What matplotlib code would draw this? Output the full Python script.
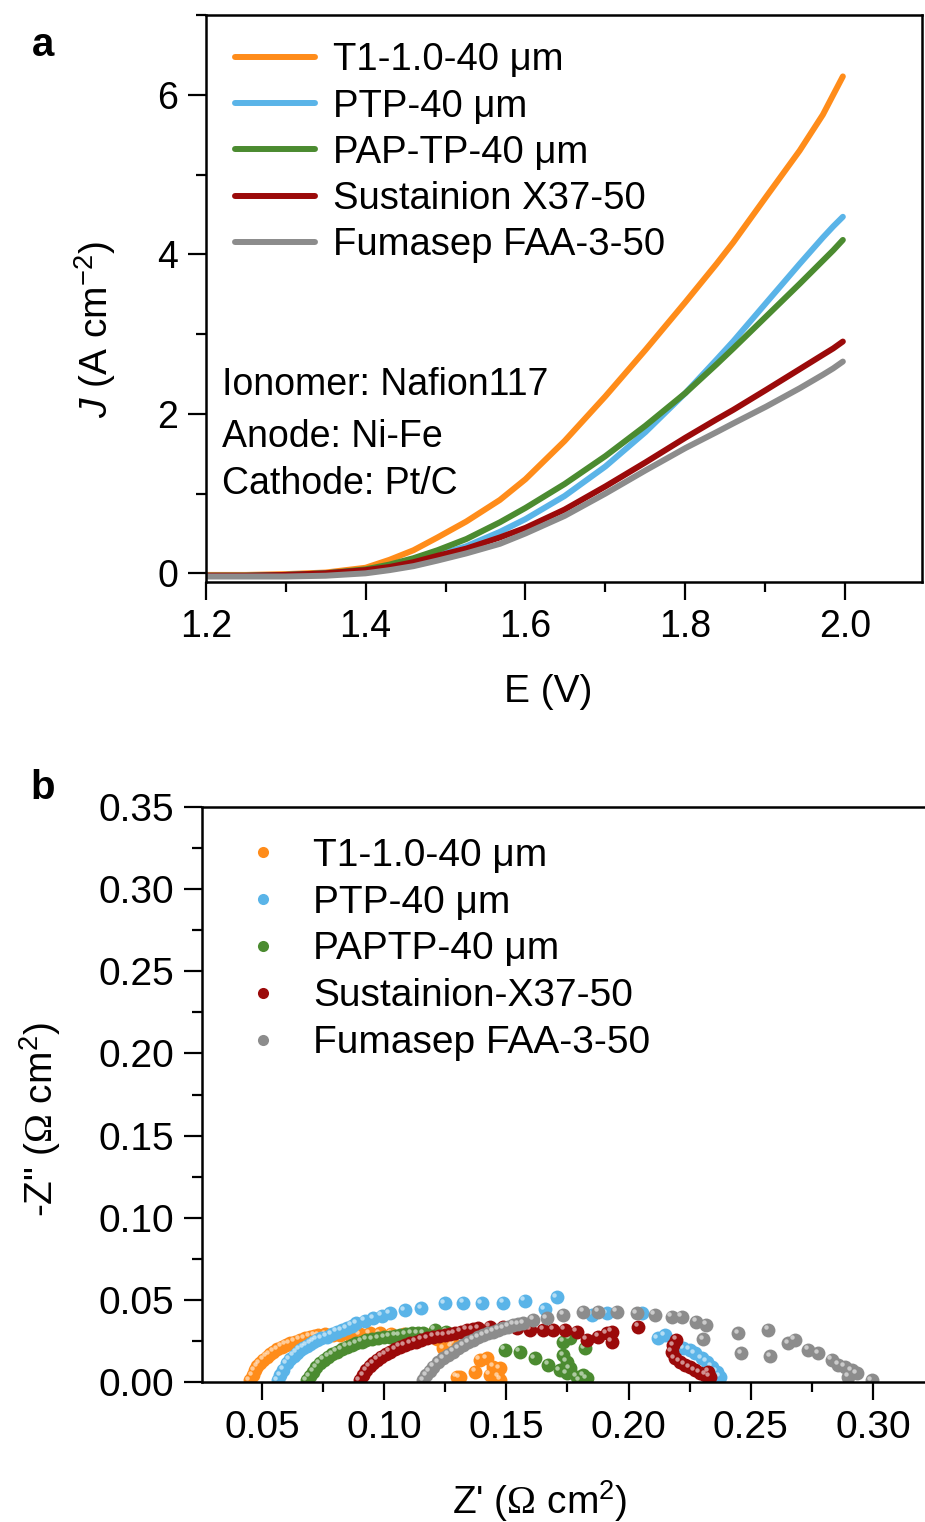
import matplotlib
matplotlib.use("Agg")
import matplotlib.pyplot as plt
from matplotlib.ticker import MultipleLocator, FormatStrFormatter
from matplotlib.transforms import offset_copy

plt.rcParams['font.family'] = ['Liberation Sans', 'DejaVu Sans']
plt.rcParams['mathtext.fontset'] = 'custom'
plt.rcParams['mathtext.rm'] = 'Liberation Sans'
plt.rcParams['mathtext.it'] = 'Liberation Sans:italic'
plt.rcParams['mathtext.sf'] = 'Liberation Serif'

# ---- data: polarization curves (panel a) ----
names_a = ["T1-1.0-40 μm", "PTP-40 μm", "PAP-TP-40 μm", "Sustainion X37-50", "Fumasep FAA-3-50"]
colors = ["#FF8C1A", "#5AB4E8", "#4B8B30", "#9B0A0A", "#8C8C8C"]

E_volt = [1.20, 1.25, 1.30, 1.35, 1.40, 1.43, 1.46, 1.49, 1.526, 1.568, 1.60,
          1.649, 1.70, 1.75, 1.80, 1.839, 1.86, 1.901, 1.943, 1.972, 1.985, 1.997]
J_t1 = [-0.02, -0.02, -0.01, 0.01, 0.07, 0.17, 0.29, 0.45, 0.65, 0.92, 1.18,
        1.66, 2.22, 2.80, 3.40, 3.88, 4.15, 4.72, 5.30, 5.75, 6.00, 6.23]
J_ptp = [-0.03, -0.03, -0.02, 0.0, 0.04, 0.08, 0.14, 0.23, 0.34, 0.52, 0.68,
         0.97, 1.34, 1.77, 2.26, 2.68, 2.91, 3.39, 3.88, 4.21, 4.35, 4.47]
J_paptp = [-0.03, -0.03, -0.02, 0.0, 0.05, 0.11, 0.19, 0.29, 0.43, 0.64, 0.82,
           1.12, 1.47, 1.85, 2.26, 2.62, 2.82, 3.22, 3.63, 3.92, 4.05, 4.18]
J_sus = [-0.03, -0.03, -0.02, 0.0, 0.04, 0.08, 0.14, 0.22, 0.31, 0.45, 0.57,
         0.80, 1.09, 1.39, 1.70, 1.93, 2.05, 2.30, 2.56, 2.74, 2.82, 2.906]
J_fum = [-0.04, -0.04, -0.04, -0.03, 0.0, 0.04, 0.09, 0.16, 0.25, 0.37, 0.50,
         0.72, 1.00, 1.29, 1.57, 1.77, 1.88, 2.09, 2.32, 2.49, 2.57, 2.655]

# ---- data: Nyquist plots (panel b) ----
names_b = ["T1-1.0-40 μm", "PTP-40 μm", "PAPTP-40 μm", "Sustainion-X37-50", "Fumasep FAA-3-50"]

zre_t1 = [0.0451, 0.0462, 0.0471, 0.0482, 0.0492, 0.0505, 0.0519, 0.0532, 0.0546, 0.0563,
          0.0581, 0.0598, 0.0615, 0.0635, 0.0655, 0.0675, 0.0696, 0.0715, 0.0730, 0.0760,
          0.0790, 0.0820, 0.0860, 0.0901, 0.0942, 0.0983, 0.1030, 0.1080, 0.1130, 0.1175,
          0.1215, 0.1242, 0.1276, 0.1283, 0.1297, 0.1310, 0.1372, 0.1392, 0.1419, 0.1433,
          0.1446, 0.1468, 0.1474, 0.1476]
zim_t1 = [0.0010, 0.0040, 0.0073, 0.0095, 0.0114, 0.0135, 0.0154, 0.0170, 0.0185, 0.0200,
          0.0215, 0.0226, 0.0235, 0.0246, 0.0256, 0.0266, 0.0276, 0.0282, 0.0286, 0.0290,
          0.0288, 0.0284, 0.0288, 0.0292, 0.0296, 0.0296, 0.0294, 0.0290, 0.0290, 0.0285,
          0.0260, 0.0205, 0.0215, 0.0232, 0.0032, 0.0030, 0.0063, 0.0134, 0.0144, 0.0043,
          0.0093, 0.0032, 0.0083, 0.0015]

zre_ptp = [0.0565, 0.0575, 0.0588, 0.0601, 0.0615, 0.0630, 0.0642, 0.0655, 0.0670, 0.0684,
           0.0697, 0.0710, 0.0725, 0.0742, 0.0765, 0.0785, 0.0806, 0.0826, 0.0847, 0.0867,
           0.0887, 0.0920, 0.0955, 0.0990, 0.1024, 0.1085, 0.1153, 0.1249, 0.1324, 0.1399,
           0.1488, 0.1576, 0.1658, 0.1706, 0.1850, 0.1910, 0.2054, 0.2120, 0.2149, 0.2224,
           0.2251, 0.2272, 0.2299, 0.2320, 0.2340, 0.2360, 0.2374]
zim_ptp = [0.0010, 0.0040, 0.0075, 0.0114, 0.0138, 0.0160, 0.0178, 0.0195, 0.0210, 0.0222,
           0.0234, 0.0245, 0.0256, 0.0266, 0.0276, 0.0291, 0.0306, 0.0316, 0.0327, 0.0342,
           0.0357, 0.0372, 0.0388, 0.0403, 0.0418, 0.0438, 0.0449, 0.0479, 0.0483, 0.0479,
           0.0483, 0.0495, 0.0443, 0.0516, 0.0410, 0.0418, 0.0420, 0.0266, 0.0286, 0.0205,
           0.0195, 0.0175, 0.0144, 0.0124, 0.0093, 0.0063, 0.0032]

zre_paptp = [0.0683, 0.0696, 0.0710, 0.0723, 0.0737, 0.0754, 0.0771, 0.0788, 0.0806, 0.0826,
             0.0847, 0.0867, 0.0887, 0.0908, 0.0928, 0.0952, 0.0976, 0.1000, 0.1024, 0.1045,
             0.1065, 0.1089, 0.1113, 0.1137, 0.1160, 0.1208, 0.1255, 0.1494, 0.1556, 0.1617,
             0.1672, 0.1719, 0.1747, 0.1788, 0.1829, 0.1733, 0.1760, 0.1733, 0.1747, 0.1760,
             0.1821, 0.1800, 0.1815]
zim_paptp = [0.0010, 0.0035, 0.0063, 0.0090, 0.0114, 0.0135, 0.0154, 0.0170, 0.0185, 0.0200,
             0.0215, 0.0225, 0.0235, 0.0246, 0.0256, 0.0261, 0.0266, 0.0271, 0.0276, 0.0281,
             0.0286, 0.0291, 0.0296, 0.0296, 0.0296, 0.0317, 0.0306, 0.0195, 0.0185, 0.0144,
             0.0104, 0.0073, 0.0053, 0.0032, 0.0022, 0.0245, 0.0266, 0.0164, 0.0124, 0.0083,
             0.0205, 0.0010, 0.0040]

zre_sus = [0.0901, 0.0914, 0.0928, 0.0941, 0.0955, 0.0972, 0.0989, 0.1006, 0.1024, 0.1045,
           0.1065, 0.1085, 0.1106, 0.1130, 0.1153, 0.1177, 0.1201, 0.1225, 0.1249, 0.1270,
           0.1290, 0.1314, 0.1338, 0.1362, 0.1385, 0.1433, 0.1488, 0.1542, 0.1597, 0.1651,
           0.1692, 0.1740, 0.1788, 0.1829, 0.1876, 0.1910, 0.1931, 0.1931, 0.2040, 0.2196,
           0.2183, 0.2176, 0.2190, 0.2210, 0.2231, 0.2251, 0.2272, 0.2292, 0.2313, 0.2333,
           0.2326]
zim_sus = [0.0010, 0.0040, 0.0073, 0.0095, 0.0114, 0.0135, 0.0154, 0.0170, 0.0185, 0.0200,
           0.0215, 0.0225, 0.0235, 0.0246, 0.0256, 0.0266, 0.0276, 0.0281, 0.0286, 0.0291,
           0.0296, 0.0306, 0.0317, 0.0322, 0.0327, 0.0337, 0.0337, 0.0327, 0.0317, 0.0317,
           0.0317, 0.0317, 0.0306, 0.0256, 0.0276, 0.0296, 0.0306, 0.0245, 0.0337, 0.0256,
           0.0225, 0.0185, 0.0144, 0.0124, 0.0104, 0.0089, 0.0073, 0.0057, 0.0043, 0.0032,
           0.0063]

zre_fum = [0.1160, 0.1172, 0.1186, 0.1201, 0.1221, 0.1242, 0.1262, 0.1283, 0.1303, 0.1324,
           0.1345, 0.1365, 0.1386, 0.1406, 0.1427, 0.1447, 0.1468, 0.1488, 0.1508, 0.1528,
           0.1549, 0.1569, 0.1610, 0.1665, 0.1733, 0.1815, 0.1876, 0.1951, 0.2033, 0.2108,
           0.2176, 0.2217, 0.2278, 0.2319, 0.2306, 0.2449, 0.2572, 0.2462, 0.2579, 0.2653,
           0.2681, 0.2735, 0.2776, 0.2831, 0.2858, 0.2885, 0.2913, 0.2933, 0.2899, 0.2995]
zim_fum = [0.0010, 0.0040, 0.0065, 0.0093, 0.0120, 0.0144, 0.0165, 0.0185, 0.0205, 0.0225,
           0.0241, 0.0256, 0.0271, 0.0286, 0.0296, 0.0306, 0.0317, 0.0327, 0.0337, 0.0347,
           0.0352, 0.0357, 0.0378, 0.0388, 0.0408, 0.0428, 0.0428, 0.0428, 0.0418, 0.0408,
           0.0398, 0.0398, 0.0367, 0.0347, 0.0260, 0.0296, 0.0317, 0.0175, 0.0158, 0.0235,
           0.0256, 0.0195, 0.0175, 0.0134, 0.0104, 0.0093, 0.0073, 0.0053, 0.0032, 0.0010]

J_all = [J_t1, J_ptp, J_paptp, J_sus, J_fum]
zre_all = [zre_t1, zre_ptp, zre_paptp, zre_sus, zre_fum]
zim_all = [zim_t1, zim_ptp, zim_paptp, zim_sus, zim_fum]

W, H = 925, 1522
fig = plt.figure(figsize=(W / 100, H / 100), dpi=100)

def px_box(left, top, right, bottom):
    return [left / W, 1 - bottom / H, (right - left) / W, (bottom - top) / H]

def style_axes(ax, lsize=27):
    for s in ax.spines.values():
        s.set_linewidth(1.8)
    ax.tick_params(which='both', direction='out', width=1.6, top=False, right=False,
                   labelsize=lsize, pad=7)
    ax.tick_params(which='major', length=13)
    ax.tick_params(which='minor', length=7)


# Panel a: J vs E
ax1 = fig.add_axes(px_box(205.7, 15, 922, 581.7))
for J, c, n in zip(J_all, colors, names_a):
    ax1.plot(E_volt, J, color=c, lw=4.3, label=n, solid_capstyle='round',
             solid_joinstyle='round')
ax1.set_xlim(1.2, 2.096)
ax1.set_ylim(-0.105, 7.0)
ax1.xaxis.set_major_locator(MultipleLocator(0.2))
ax1.xaxis.set_minor_locator(MultipleLocator(0.1))
ax1.xaxis.set_major_formatter(FormatStrFormatter('%.1f'))
ax1.yaxis.set_major_locator(MultipleLocator(2))
ax1.yaxis.set_minor_locator(MultipleLocator(1))
style_axes(ax1)
ax1.set_xlabel("E (V)", fontsize=28)
ax1.xaxis.set_label_coords(0.478, -0.162)
ax1.set_ylabel(r"$J$ (A cm$^{-2}$)", fontsize=28)
ax1.yaxis.set_label_coords(-0.122, 0.444)
ax1.legend(loc='upper left', bbox_to_anchor=(0.041, 0.952), frameon=False, fontsize=27.5,
           borderaxespad=0, borderpad=0, handlelength=2.1, handletextpad=0.46,
           labelspacing=0.27)
notes = ["Ionomer: Nafion117", "Anode: Ni-Fe", "Cathode: Pt/C"]
for t, yy in zip(notes, [0.347, 0.255, 0.172]):
    ax1.text(0.0228, yy, t, transform=ax1.transAxes, fontsize=27, ha='left', va='center')

# Panel b: Nyquist
ax2 = fig.add_axes(px_box(202, 807, 925, 1382))
for x, y, c, n in zip(zre_all, zim_all, colors, names_b):
    ax2.plot(x, y, 'o', color=c, ms=10, mec='none', label=n)
    # little highlight so the dots look like balls
    hl = offset_copy(ax2.transData, fig=fig, x=-1.8, y=1.8, units='points')
    ax2.plot(x, y, 'o', color='white', alpha=0.55, ms=3.2, mec='none', transform=hl)
ax2.set_xlim(0.0255, 0.3213)
ax2.set_ylim(0, 0.35)
ax2.spines['right'].set_visible(False)
ax2.xaxis.set_major_locator(MultipleLocator(0.05))
ax2.xaxis.set_minor_locator(MultipleLocator(0.025))
ax2.yaxis.set_major_locator(MultipleLocator(0.05))
ax2.yaxis.set_minor_locator(MultipleLocator(0.025))
ax2.xaxis.set_major_formatter(FormatStrFormatter('%.2f'))
ax2.yaxis.set_major_formatter(FormatStrFormatter('%.2f'))
style_axes(ax2, lsize=28)
ax2.set_xlabel(r"Z' ($\mathsf{\Omega}$ cm$^{2}$)", fontsize=28)
ax2.xaxis.set_label_coords(0.4675, -0.167)
ax2.set_ylabel(r'-Z" ($\mathsf{\Omega}$ cm$^{2}$)', fontsize=28)
ax2.yaxis.set_label_coords(-0.192, 0.456)
handles, labels = ax2.get_legend_handles_labels()
ax2.legend(handles, names_b, loc='upper left',
           bbox_to_anchor=(0.058, 0.9466), frameon=False, fontsize=28, borderaxespad=0,
           borderpad=0, handlelength=1.0, handletextpad=0.78, labelspacing=0.28,
           numpoints=1, markerscale=0.8)

fig.text(43 / W, 1 - 45 / H, "a", fontsize=29, fontweight='bold', ha='center', va='center')
fig.text(43 / W, 1 - 788 / H, "b", fontsize=29, fontweight='bold', ha='center', va='center')

fig.savefig("out.png", dpi=100)
